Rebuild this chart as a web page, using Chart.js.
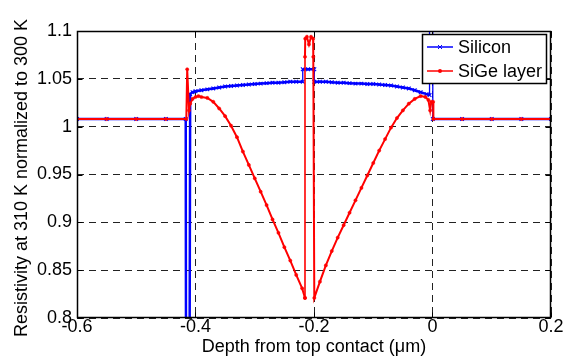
<!DOCTYPE html>
<html>
<head>
<meta charset="utf-8">
<script src="https://cdn.jsdelivr.net/npm/chart.js@4/dist/chart.umd.min.js"></script>
<style>
  html, body { margin: 0; padding: 0; background: #fff; }
  #wrap { width: 569px; height: 360px; }
</style>
</head>
<body>
<div id="wrap"><canvas id="chart" width="569" height="360"></canvas></div>
<script>
// values
const siliconX = [-0.6, -0.55, -0.5, -0.45, -0.4165,
  -0.416, -0.41, -0.409, -0.405, -0.4, -0.39, -0.38, -0.37, -0.36, -0.35, -0.34, -0.33, -0.32,
  -0.31, -0.3, -0.29, -0.28, -0.27, -0.26, -0.25, -0.24, -0.23, -0.219,
  -0.219, -0.21, -0.1995, -0.1995,
  -0.19, -0.18, -0.17, -0.16, -0.15, -0.14, -0.13, -0.12, -0.11, -0.1, -0.09, -0.08, -0.07,
  -0.06, -0.05, -0.04, -0.03, -0.02, -0.01, -0.005,
  -0.005, 0.0005, 0.0005, 0.05, 0.1, 0.15, 0.2];
const siliconY = [1.008, 1.008, 1.008, 1.008, 1.008,
  0.75, 0.75, 1.034, 1.036, 1.037, 1.038, 1.039, 1.040, 1.041, 1.042, 1.0425, 1.043, 1.0435,
  1.044, 1.0445, 1.045, 1.0455, 1.046, 1.046, 1.0465, 1.047, 1.047, 1.047,
  1.06, 1.06, 1.06, 1.047,
  1.047, 1.047, 1.0465, 1.046, 1.046, 1.0455, 1.045, 1.045, 1.0445, 1.0445, 1.044, 1.0435, 1.043,
  1.042, 1.041, 1.040, 1.038, 1.036, 1.034, 1.033,
  1.12, 1.12, 1.008, 1.008, 1.008, 1.008, 1.008];

const sigeX = [-0.6, -0.55, -0.5, -0.45, -0.4155,
  -0.414, -0.411, -0.409, -0.405, -0.4, -0.395, -0.39, -0.38, -0.37, -0.36, -0.35, -0.34, -0.33,
  -0.32, -0.31, -0.3, -0.29, -0.28, -0.27, -0.26, -0.25, -0.24, -0.23, -0.22, -0.2152,
  -0.2152, -0.2152, -0.2148, -0.212, -0.2085, -0.205, -0.2015, -0.2012, -0.1995,
  -0.19, -0.18, -0.17, -0.16, -0.15, -0.14, -0.13, -0.12, -0.11, -0.1, -0.09, -0.08, -0.07,
  -0.06, -0.05, -0.04, -0.03, -0.02, -0.012, -0.007, -0.004, -0.002, 0.001, 0.0015,
  0.05, 0.1, 0.15, 0.2];
const sigeY = [1.008, 1.008, 1.008, 1.008, 1.008,
  1.06, 1.017, 1.024, 1.029, 1.031, 1.032, 1.031, 1.030, 1.026, 1.019, 1.011, 1.001, 0.989,
  0.974, 0.960, 0.946, 0.932, 0.918, 0.903, 0.889, 0.874, 0.860, 0.845, 0.831, 0.821,
  0.821, 1.073, 1.092, 1.094, 1.086, 1.094, 1.092, 1.073, 0.821,
  0.838, 0.855, 0.870, 0.884, 0.897, 0.910, 0.923, 0.936, 0.949, 0.962, 0.975, 0.987, 0.999,
  1.009, 1.017, 1.024, 1.029, 1.032, 1.031, 1.028, 1.017, 1.026, 1.026, 1.008,
  1.008, 1.008, 1.008, 1.008];

const xTicks = [-0.6, -0.4, -0.2, 0, 0.2];
const yTicks = [0.8, 0.85, 0.9, 0.95, 1, 1.05, 1.1];
const seriesNames = ['Silicon', 'SiGe layer'];
const seriesColors = ['#0000ff', '#ff0000'];
const xTitle = 'Depth from top contact (\u03bcm)';
const yTitle = 'Resistivity at 310 K normalized to 300 K';

const FONT = "'Liberation Sans', Arial, Helvetica, sans-serif";
Chart.defaults.font.family = FONT;
Chart.defaults.font.size = 18;
Chart.defaults.color = '#000';

const fmt = v => String(+(+v).toFixed(2));

// box, inner ticks, y title and legend, drawn MATLAB style
const matlabPlugin = {
  id: 'matlab',
  afterDatasetsDraw(chart) {
    const { ctx, chartArea: a, scales: { x, y } } = chart;
    ctx.save();
    ctx.setLineDash([]);
    ctx.strokeStyle = '#000';
    ctx.lineWidth = 1;
    const L = Math.round(a.left) + 0.5, R = Math.round(a.right) - 0.5;
    const T = Math.round(a.top) + 0.5, B = Math.round(a.bottom) - 0.5;
    ctx.beginPath();
    xTicks.forEach(v => {
      const px = Math.round(x.getPixelForValue(v)) + 0.5;
      ctx.moveTo(px, B); ctx.lineTo(px, B - 5);
      ctx.moveTo(px, T); ctx.lineTo(px, T + 5);
    });
    yTicks.forEach(v => {
      const py = Math.round(y.getPixelForValue(v)) + 0.5;
      ctx.moveTo(L, py); ctx.lineTo(L + 5, py);
      ctx.moveTo(R, py); ctx.lineTo(R - 5, py);
    });
    ctx.stroke();
    ctx.lineWidth = 1.5;
    ctx.strokeRect(L, T, R - L, B - T);

    // y axis title (drawn here so it is not squeezed to the plot height)
    ctx.fillStyle = '#000';
    ctx.font = '18px ' + FONT;
    ctx.textAlign = 'center';
    ctx.textBaseline = 'middle';
    ctx.translate(22, 178);
    ctx.rotate(-Math.PI / 2);
    ctx.fillText(yTitle, 0, 0);
    ctx.setTransform(1, 0, 0, 1, 0, 0);

    // legend box
    const bx = 422.5, by = 34.5, bw = 124, bh = 49;
    ctx.fillStyle = '#fff';
    ctx.fillRect(bx, by, bw, bh);
    ctx.lineWidth = 1.5;
    ctx.strokeRect(bx, by, bw, bh);
    ctx.textAlign = 'left';
    seriesNames.forEach((name, i) => {
      const ly = 47 + i * 24;
      ctx.strokeStyle = seriesColors[i];
      ctx.fillStyle = seriesColors[i];
      ctx.lineWidth = 1.5;
      ctx.beginPath();
      ctx.moveTo(427, ly); ctx.lineTo(453, ly);
      ctx.stroke();
      ctx.lineWidth = 1;
      ctx.beginPath();
      if (i === 0) {
        ctx.moveTo(438, ly - 2); ctx.lineTo(442, ly + 2);
        ctx.moveTo(438, ly + 2); ctx.lineTo(442, ly - 2);
        ctx.stroke();
      } else {
        ctx.arc(440, ly, 2, 0, Math.PI * 2);
        ctx.fill();
      }
      ctx.fillStyle = '#000';
      ctx.fillText(name, 458, ly + 1);
    });
    ctx.restore();
  }
};

const toPoints = (xs, ys) => xs.map((v, i) => ({ x: v, y: ys[i] }));
// vertical jumps are drawn thin, like the original
const thinVertical = w => c => (c.p0.parsed.x === c.p1.parsed.x ? w : undefined);

new Chart(document.getElementById('chart'), {
  type: 'line',
  data: {
    datasets: [
      {
        label: seriesNames[0],
        data: toPoints(siliconX, siliconY),
        borderColor: seriesColors[0],
        backgroundColor: seriesColors[0],
        borderWidth: 2.5,
        segment: { borderWidth: thinVertical(1.3) },
        pointStyle: 'crossRot',
        pointRadius: 2.6,
        pointBorderWidth: 1.1,
        tension: 0,
        fill: false,
        clip: 0,
        order: 1
      },
      {
        label: seriesNames[1],
        data: toPoints(sigeX, sigeY),
        borderColor: seriesColors[1],
        backgroundColor: seriesColors[1],
        borderWidth: 2,
        segment: { borderWidth: thinVertical(1.6) },
        pointStyle: 'circle',
        pointRadius: 1.6,
        pointBorderWidth: 0.5,
        tension: 0,
        fill: false,
        clip: 0,
        order: 0
      }
    ]
  },
  options: {
    responsive: false,
    animation: false,
    layout: { padding: { top: 31, right: 18, left: 0, bottom: 0 } },
    plugins: { legend: { display: false }, tooltip: { enabled: false } },
    scales: {
      x: {
        type: 'linear',
        min: -0.6,
        max: 0.2,
        afterBuildTicks: s => { s.ticks = xTicks.map(v => ({ value: v })); },
        afterFit: s => { s.height = 42; },
        grid: { color: '#222', lineWidth: 1, drawTicks: false },
        border: { display: false, dash: [7, 5] },
        ticks: { padding: -2, maxRotation: 0, autoSkip: false, callback: fmt },
        title: { display: true, text: xTitle, padding: { top: 0, bottom: 2 } }
      },
      y: {
        type: 'linear',
        min: 0.8,
        max: 1.1,
        afterBuildTicks: s => { s.ticks = yTicks.map(v => ({ value: v })); },
        afterFit: s => { s.width = 77; },
        grid: { color: '#222', lineWidth: 1, drawTicks: false },
        border: { display: false, dash: [7, 5] },
        ticks: { padding: 5, autoSkip: false, callback: fmt }
      }
    }
  },
  plugins: [matlabPlugin]
});
</script>
</body>
</html>
